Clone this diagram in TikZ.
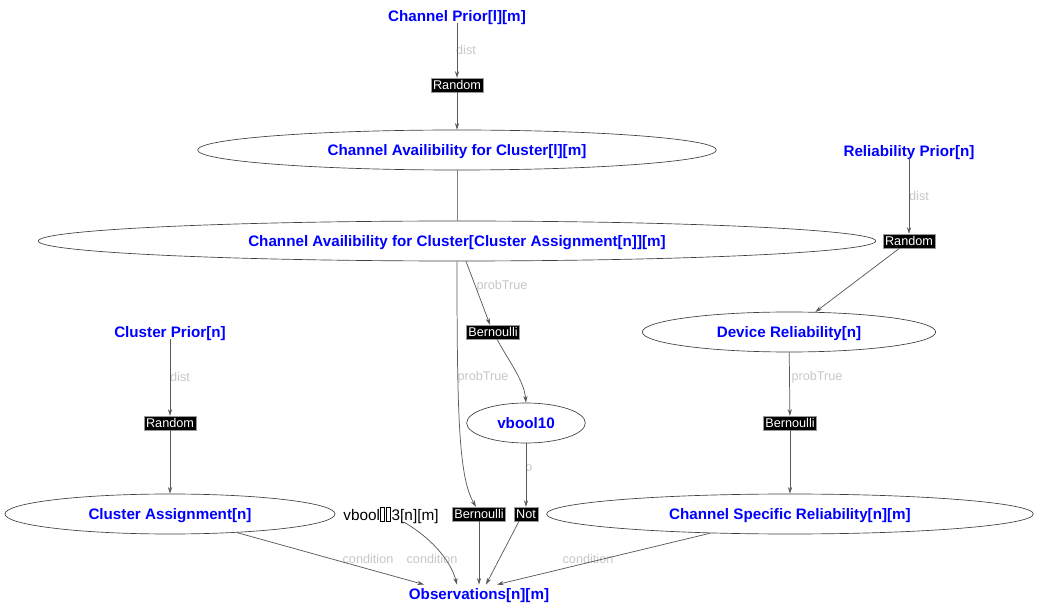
\documentclass[tikz,border=0pt]{standalone}
\usepackage{fontspec}
\setmainfont{Liberation Sans}
\usetikzlibrary{shapes.geometric,arrows.meta,calc}
\definecolor{nblue}{RGB}{0,0,255}
\newcommand\tofubox{{\fboxsep=0pt\fboxrule=0.45pt\fbox{\rule{0pt}{1.55ex}\hspace{0.24em}}}\hspace{0.06em}}
\begin{document}
\begin{tikzpicture}[x=0.75pt,y=-0.75pt,
 var/.style={font=\fontsize{11.4}{13}\selectfont\bfseries, text=nblue, inner sep=1pt, text depth=0pt},
 ell/.style={ellipse, draw=black!75, line width=0.5pt, inner sep=0pt, fill=white, font=\fontsize{11.4}{13}\selectfont\bfseries, text=nblue, text depth=0pt},
 fac/.style={fill=black, text=white, font=\fontsize{9.5}{10}\selectfont, inner xsep=1.5pt, inner ysep=0pt, minimum height=10.5pt, draw=black!40, line width=0.3pt},
 lbl/.style={text=black!22, font=\fontsize{9.5}{10}\selectfont, inner sep=0pt},
 edge/.style={draw=black!65, line width=0.55pt, -{Stealth[length=5pt,width=3.2pt]}},
 plain/.style={draw=black!50, line width=0.55pt}]
\useasboundingbox (0,0) rectangle (1039,609);

% nodes
\node[var] (cp) at (457,16) {Channel Prior[l][m]};
\node[fac] (r1) at (457,85) {Random};
\node[ell, minimum width=389pt, minimum height=30pt] (cal) at (457,150) {Channel Availibility for Cluster[l][m]};
\node[ell, minimum width=628pt, minimum height=30pt] (caca) at (457,241) {Channel Availibility for Cluster[Cluster Assignment[n]][m]};

\node[var] (rp) at (909,151) {Reliability Prior[n]};
\node[fac] (r2) at (909,241) {Random};
\node[ell, minimum width=220pt, minimum height=30pt] (dr) at (789,332) {Device Reliability[n]};
\node[fac] (b3) at (790,423) {Bernoulli};
\node[ell, minimum width=365pt, minimum height=30pt] (csr) at (790,514) {Channel Specific Reliability[n][m]};

\node[var] (cpr) at (170,332) {Cluster Prior[n]};
\node[fac] (r3) at (170,423) {Random};
\node[ell, minimum width=247.5pt, minimum height=30pt] (ca) at (170,514) {Cluster Assignment[n]};

\node[fac] (b1) at (493,332) {Bernoulli};
\node[ell, minimum width=89pt, minimum height=30pt] (vb10) at (526,423) {vbool10};
\node[fac] (b2) at (479,514) {Bernoulli};
\node[fac] (nt) at (526,514) {Not};
\node[font=\fontsize{11.5}{13}\selectfont, inner sep=1pt, text depth=0pt] (vb3) at (391,514) {vbool\tofubox\tofubox3[n][m]};

\node[var, inner sep=0.5pt] (obs) at (479,594) {Observations[n][m]};

% labels
\node[lbl] (l1) at (466,50) {dist};
\node[lbl] (l2) at (919,196) {dist};
\node[lbl] (l3) at (180,377) {dist};
\node[lbl] (l4) at (502,286) {probTrue};
\node[lbl] (l5) at (483,377) {probTrue};
\node[lbl] (l6) at (817,377) {probTrue};
\node[lbl] (l7) at (529,468) {o};
\node[lbl] (l8) at (368,559) {condition};
\node[lbl] (l9) at (432,559) {condition};
\node[lbl] (l10) at (588,559) {condition};

% edges
\draw[edge] (cp) -- (r1);
\draw[edge] (r1) -- (cal);
\draw[plain] (cal) -- (caca);
\draw[edge] (rp) -- (r2);
\draw[edge] (r2) -- (dr);
\draw[edge] (dr) -- (b3);
\draw[edge] (b3) -- (csr);
\draw[edge] (cpr) -- (r3);
\draw[edge] (r3) -- (ca);
\draw[edge] ($(caca.south)+(9,0)$) -- ($(b1.north)+(-3,0)$);
\draw[edge] ($(b1.south)+(4,0)$) .. controls (508,360) and (524,380) .. (vb10.north);
\draw[edge] (vb10) -- (nt);
\draw[edge] (caca.south) .. controls (457,420) and (459,478) .. ($(b2.north)+(-3,0)$);
\draw[edge] (ca) -- ($(obs.north)+(-55,-3)$);
\draw[edge] ($(vb3.south)+(13,0)$) .. controls (428,536) and (450,558) .. ($(obs.north)+(-22,-3)$);
\draw[edge] (b2) -- ($(obs.north)+(0,-3)$);
\draw[edge] ($(nt.south)+(-7,0)$) -- ($(obs.north)+(7,-3)$);
\draw[edge] (csr) -- ($(obs.north)+(18,-3)$);
\end{tikzpicture}
\end{document}
